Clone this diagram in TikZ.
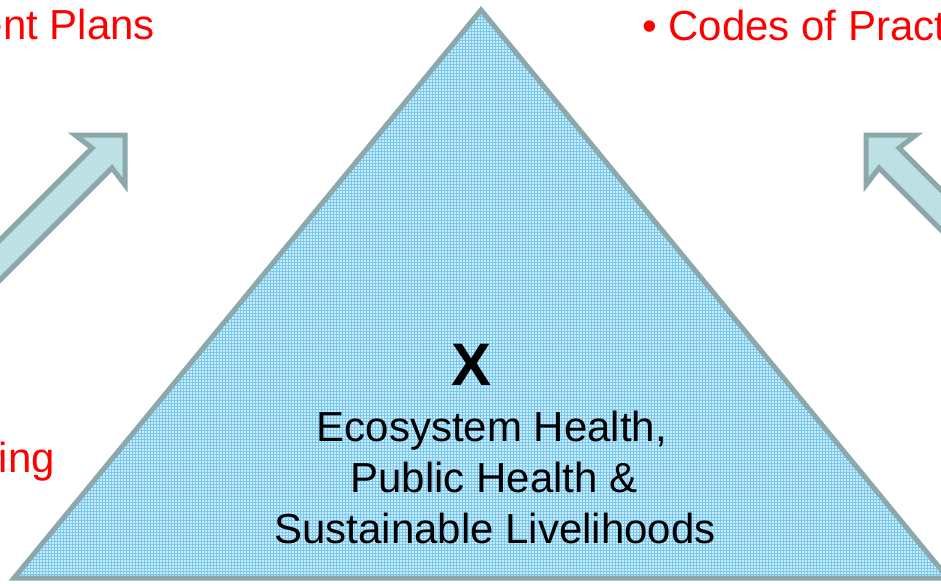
\documentclass[tikz,border=0pt]{standalone}
\usepackage{fontspec}
\setmainfont{Liberation Sans}
\usetikzlibrary{patterns}
\definecolor{arrowfill}{RGB}{188,224,228}
\definecolor{arrowline}{RGB}{140,168,170}
\definecolor{trifill}{RGB}{205,236,250}
\definecolor{trigrid}{RGB}{120,200,240}
\begin{document}
\begin{tikzpicture}[x=1pt,y=-1pt,
    blockarrow/.style={fill=arrowfill,draw=arrowline,line width=5pt,miter limit=20},
    redtext/.style={text=red,font=\fontsize{42}{50}\selectfont,inner sep=0pt},
    goaltext/.style={font=\fontsize{42}{50}\selectfont,inner sep=0pt,anchor=base}]
  \useasboundingbox (0,0) rectangle (941,583);
  \fill[trifill] (481,10) -- (14,578) -- (948,578) -- cycle;
  \fill[pattern=grid,pattern color=trigrid] (481,10) -- (14,578) -- (948,578) -- cycle;
  \draw[arrowline,line width=5pt] (481,10) -- (14,578) -- (948,578) -- cycle;
  \draw[blockarrow] (125,135) -- (75,135) -- (92,148) -- ++(-200,200) -- (-88,368) -- (112,168) -- (125,185) -- cycle;
  \draw[blockarrow] (866,135) -- (916,135) -- (899,148) -- ++(200,200) -- (1079,368) -- (879,168) -- (866,185) -- cycle;
  \node[font=\bfseries\fontsize{60}{60}\selectfont,inner sep=0pt,anchor=base] (x) at (472,385) {X};
  \node[goaltext] (eco) at (492,441) {Ecosystem Health,};
  \node[goaltext] (pub) at (494,492) {Public Health \&};
  \node[goaltext] (sus) at (495,543) {Sustainable Livelihoods};
  \node[redtext,anchor=base east] (plans) at (155,40) {ent Plans};
  \node[redtext,anchor=base west] (codes) at (642,41) {• Codes of Pract};
  \node[redtext,anchor=base east] (ing) at (55,472) {ing};
\end{tikzpicture}
\end{document}
